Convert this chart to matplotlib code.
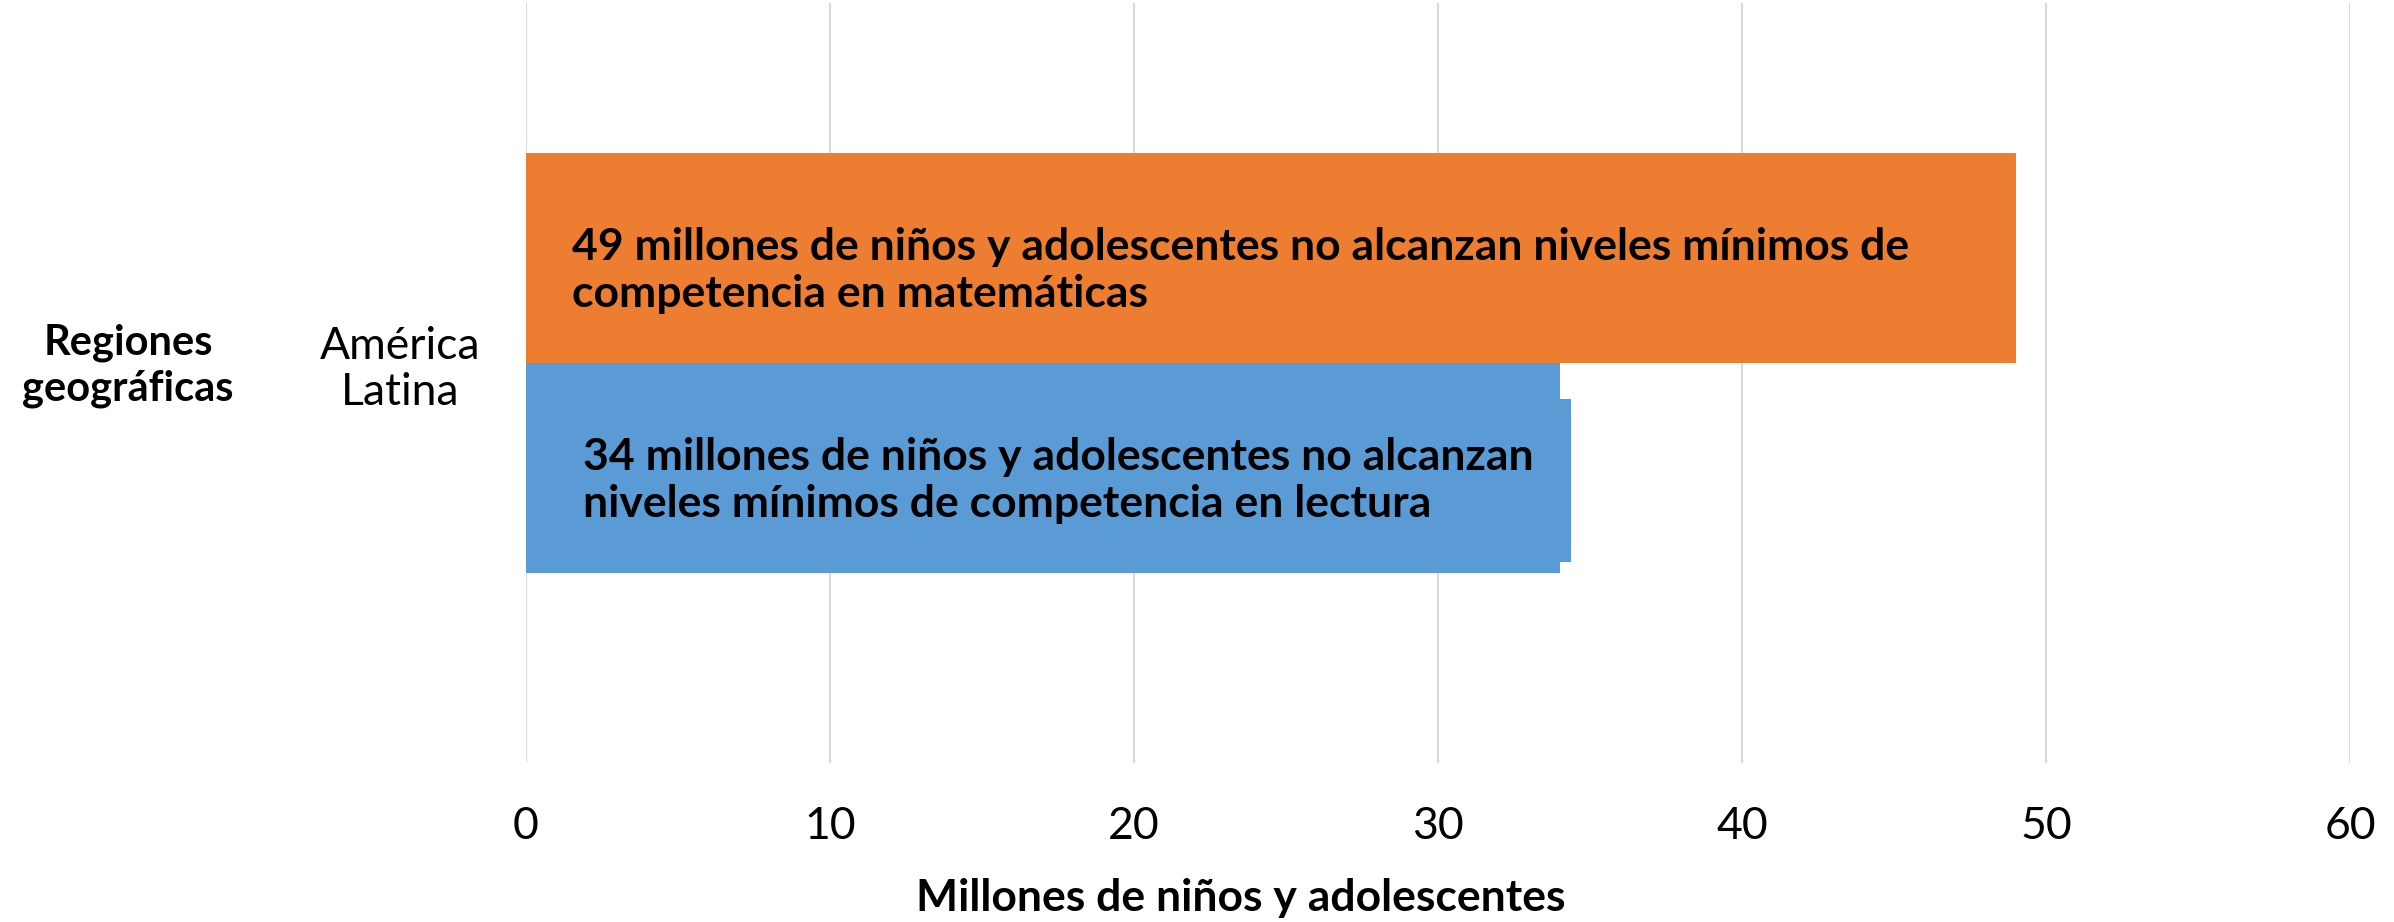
import numpy as np
import matplotlib.pyplot as plt

plt.rcParams['font.family'] = ['Lato', 'DejaVu Sans']

# data
categories = ['América\nLatina']
matematicas = [49]
lectura = [34]
label_mate = '49 millones de niños y adolescentes no alcanzan niveles mínimos de\ncompetencia en matemáticas'
label_lect = '34 millones de niños y adolescentes no alcanzan\nniveles mínimos de competencia en lectura'
xticks = [0, 10, 20, 30, 40, 50, 60]

orange = '#ED7D31'
blue = '#5B9BD5'

fig = plt.figure(figsize=(23.94, 9.22), dpi=100)
ax = fig.add_axes([526/2394, 1 - 763/922, (2350 - 526)/2394, (763 - 3)/922])

y = np.arange(len(categories))
ax.barh(y + 0.5, matematicas, height=1, color=orange, zorder=2)
ax.barh(y - 0.5, lectura, height=1, color=blue, zorder=2)

# data labels (inside the bars)
ax.text(1.5, y[0] + 0.44, label_mate, ha='left', va='center', fontsize=32,
        fontweight='bold', color='black', linespacing=1.2, zorder=3)
ax.text(lectura[0] / 2 + 0.5, y[0] - 0.56, label_lect, ha='center', va='center',
        multialignment='left', fontsize=32, fontweight='bold', color='black',
        linespacing=1.2, zorder=3,
        bbox=dict(boxstyle='square,pad=0.85', facecolor=blue, edgecolor='none'))

ax.set_xlim(0, 60)
ax.set_ylim(-1.905, 1.714)
ax.set_xticks(xticks)
ax.set_yticks(y)
ax.set_yticklabels(categories)
for lbl in ax.get_yticklabels():
    lbl.set_multialignment('center')
    lbl.set_linespacing(1.15)
ax.tick_params(axis='x', length=0, labelsize=32, pad=31)
ax.tick_params(axis='y', length=0, labelsize=32, pad=33)

ax.grid(axis='x', color='#D9D9D9', linewidth=1.5, zorder=0)
ax.set_axisbelow(True)
for s in ax.spines.values():
    s.set_visible(False)

fig.text(1241/2394, 1 - 898/922, 'Millones de niños y adolescentes', ha='center', va='center',
         fontsize=32, fontweight='bold')
fig.text(128/2394, 1 - 366/922, 'Regiones\ngeográficas', ha='center', va='center',
         fontsize=30, fontweight='bold', linespacing=1.25)

fig.savefig('out.png', dpi=100)
